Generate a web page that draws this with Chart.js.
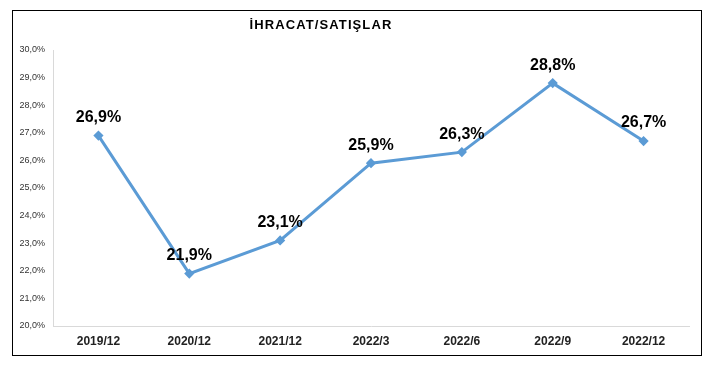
<!DOCTYPE html>
<html>
<head>
<meta charset="utf-8">
<script src="https://cdn.jsdelivr.net/npm/chart.js@4"></script>
<style>
  html, body { margin: 0; padding: 0; background: #fff; }
  #wrap { width: 717px; height: 369px; position: relative; }
</style>
</head>
<body>
<div id="wrap"><canvas id="c" width="717" height="369"></canvas></div>
<script>
const chartTitle = 'İHRACAT/SATIŞLAR';
const categories = ['2019/12', '2020/12', '2021/12', '2022/3', '2022/6', '2022/9', '2022/12'];
const ratioValues = [26.9, 21.9, 23.1, 25.9, 26.3, 28.8, 26.7];
const yMin = 20, yMax = 30, yStep = 1;

const fmt = v => v.toFixed(1).replace('.', ',') + '%';

const framePlugin = {
  id: 'frame',
  beforeDraw(chart) {
    const ctx = chart.ctx;
    ctx.save();
    ctx.fillStyle = '#ffffff';
    ctx.fillRect(0, 0, chart.width, chart.height);
    ctx.strokeStyle = '#000000';
    ctx.lineWidth = 1;
    ctx.strokeRect(12.5, 10.5, 689, 345);
    ctx.font = 'bold 13px "Liberation Sans", Arial, sans-serif';
    if ('letterSpacing' in ctx) ctx.letterSpacing = '1.1px';
    ctx.fillStyle = '#000';
    ctx.textAlign = 'center';
    ctx.textBaseline = 'middle';
    ctx.fillText(chartTitle, 321, 25);
    ctx.restore();
  }
};

const labelPlugin = {
  id: 'pointLabels',
  afterDatasetsDraw(chart) {
    const ctx = chart.ctx;
    const meta = chart.getDatasetMeta(0);
    ctx.save();
    ctx.font = 'bold 16px "Liberation Sans", Arial, sans-serif';
    ctx.fillStyle = '#000';
    ctx.textAlign = 'center';
    ctx.textBaseline = 'middle';
    meta.data.forEach((pt, i) => {
      ctx.fillText(fmt(ratioValues[i]), pt.x, pt.y - 18);
    });
    ctx.restore();
  }
};

new Chart(document.getElementById('c'), {
  type: 'line',
  data: {
    labels: categories,
    datasets: [{
      data: ratioValues,
      borderColor: '#5b9bd5',
      backgroundColor: '#5b9bd5',
      borderWidth: 3,
      pointStyle: 'rectRot',
      pointRadius: 3,
      pointHoverRadius: 3,
      tension: 0,
      fill: false
    }]
  },
  options: {
    responsive: false,
    animation: false,
    events: [],
    layout: { padding: { top: 50, right: 28, bottom: 0, left: 0 } },
    plugins: {
      legend: { display: false },
      title: { display: false },
      tooltip: { enabled: false }
    },
    scales: {
      x: {
        offset: true,
        grid: { display: false, drawTicks: false },
        border: { display: true, color: '#d9d9d9', width: 1 },
        ticks: {
          padding: 8,
          color: '#222',
          font: { family: '"Liberation Sans", Arial, sans-serif', size: 12, weight: 'bold' },
          maxRotation: 0
        },
        afterFit(scale) { scale.height = 43; }
      },
      y: {
        min: yMin,
        max: yMax,
        grid: { display: false, drawTicks: false },
        border: { display: true, color: '#d9d9d9', width: 1 },
        ticks: {
          stepSize: yStep,
          padding: 8,
          color: '#333',
          font: { family: '"Liberation Sans", Arial, sans-serif', size: 9 },
          callback: v => fmt(v)
        },
        afterFit(scale) { scale.width = 53; }
      }
    }
  },
  plugins: [framePlugin, labelPlugin]
});
</script>
</body>
</html>
